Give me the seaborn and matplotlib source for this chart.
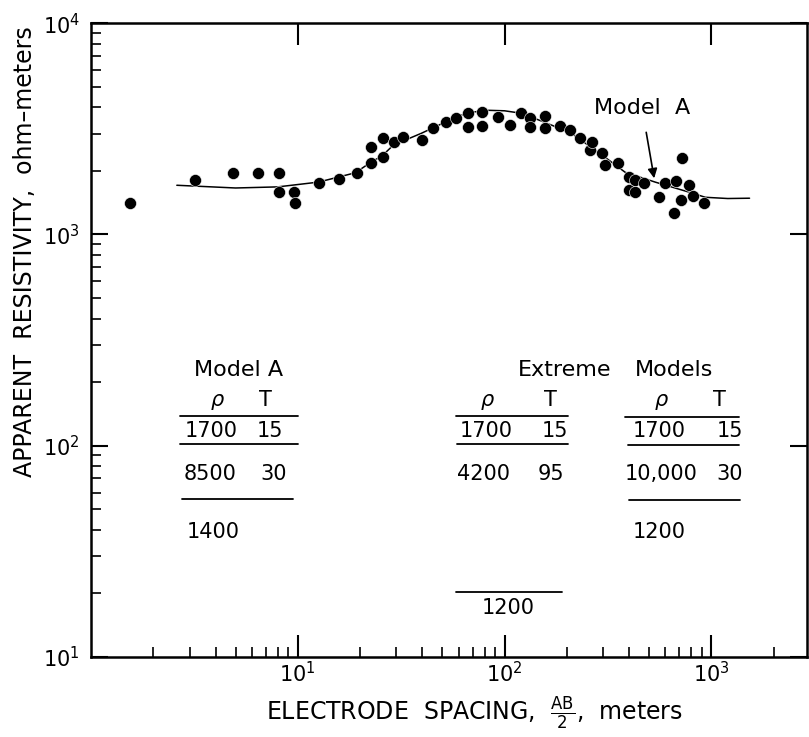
import numpy as np
import pandas as pd
import matplotlib
matplotlib.use('Agg')
import matplotlib.pyplot as plt
import seaborn as sns

# field sounding, AB/2 (m) vs apparent resistivity (ohm-m)
spacing = [1.55, 3.2, 4.84, 6.4, 8.09, 8.15, 9.56, 9.7, 12.6, 15.8, 19.3,
           22.6, 22.6, 25.9, 25.9, 29.2, 32.3, 40, 45.2, 52.3, 58.5,
           66.9, 66.9, 78.2, 78.2, 92.5, 106, 120, 132, 132, 156, 156,
           185, 207, 231, 259, 264, 296, 306, 354, 400, 400, 428, 428,
           473, 559, 598, 661, 676, 715, 723, 782, 818, 925]
rho_app = [1406, 1808, 1950, 1950, 1950, 1585, 1585, 1406, 1751, 1828, 1950,
           2588, 2173, 2858, 2323, 2737, 2887, 2794, 3185, 3397, 3548,
           3748, 3221, 3793, 3258, 3587, 3290, 3750, 3550, 3221, 3630, 3185,
           3258, 3119, 2858, 2505, 2737, 2426, 2127, 2173, 1866, 1622, 1808, 1585,
           1750, 1502, 1750, 1261, 1788, 1452, 2297, 1711, 1517, 1406]

# Model A theoretical curve
model_x = [2.6, 5, 8, 12.6, 19, 22.6, 25.5, 29, 39.5, 48, 57, 69, 84, 100,
           120, 156, 211, 306, 383, 535, 782, 935, 1200, 1530]
model_y = [1710, 1660, 1680, 1770, 1960, 2200, 2350, 2650, 3010, 3290, 3590,
           3790, 3870, 3850, 3750, 3400, 3010, 2320, 1970, 1770, 1585, 1500,
           1480, 1485]

x_major = [10, 100, 1000]

df = pd.DataFrame({'x': spacing, 'y': rho_app})
curve = pd.DataFrame({'x': model_x, 'y': model_y})

sns.set_style('ticks')
plt.rcParams['font.family'] = ['DejaVu Sans']
plt.rcParams.update({'text.color': 'black', 'axes.labelcolor': 'black',
                     'xtick.color': 'black', 'ytick.color': 'black',
                     'axes.edgecolor': 'black'})

fig = plt.figure(figsize=(8.09, 7.37), dpi=100)
ax = fig.add_axes([0.1125, 0.1085, 0.885, 0.860])

sns.lineplot(data=curve, x='x', y='y', color='black', linewidth=1.1,
             sort=False, estimator=None, ax=ax)
sns.scatterplot(data=df, x='x', y='y', color='black', s=75,
                edgecolor='white', linewidth=0.4, ax=ax, zorder=3)

ax.set_xscale('log')
ax.set_yscale('log')
ax.set_xlim(1, 2900)
ax.set_ylim(10, 10000)
ax.set_xticks(x_major)

for s in ax.spines.values():
    s.set_linewidth(1.8)
    s.set_visible(True)
    s.set_color('black')

ax.tick_params(which='major', direction='in', length=16, width=1.5,
               top=True, right=True, labelsize=15, pad=8)
ax.tick_params(which='minor', direction='in', length=7, width=1.2,
               top=False, right=False)
ax.tick_params(axis='y', which='major', length=12)
ax.tick_params(axis='x', which='major', pad=3)

ax.set_xlabel(r'ELECTRODE  SPACING,  $\frac{\mathrm{AB}}{2}$,  meters', fontsize=17)
ax.set_ylabel('APPARENT  RESISTIVITY,  ohm\u2013meters', fontsize=17)
ax.xaxis.set_label_coords(0.536, -0.06)
ax.yaxis.set_label_coords(-0.075, 0.64)

ax.annotate('Model  A', xy=(529, 1845), xytext=(462, 3965),
            ha='center', va='center', fontsize=16,
            arrowprops=dict(arrowstyle='-|>', color='black', lw=1.2,
                            shrinkA=8, shrinkB=0, mutation_scale=14))

tr = ax.transAxes
fs = 15

def txt(x, y, s, ha='left', size=fs, **kw):
    ax.text(x, y, s, transform=tr, ha=ha, va='center', fontsize=size, **kw)

def rule(x0, x1, y):
    ax.plot([x0, x1], [y, y], transform=tr, color='black', lw=1.3)

# Model A table
txt(0.144, 0.453, 'Model A', size=16)
txt(0.176, 0.405, '\u03c1', ha='center', style='italic')
txt(0.244, 0.405, 'T', ha='center')
rule(0.124, 0.289, 0.380)
txt(0.131, 0.356, '1700')
txt(0.232, 0.356, '15')
rule(0.124, 0.289, 0.336)
txt(0.130, 0.289, '8500')
txt(0.237, 0.289, '30')
rule(0.127, 0.282, 0.249)
txt(0.134, 0.197, '1400')

# Extreme models
txt(0.596, 0.453, 'Extreme', size=16)
txt(0.760, 0.453, 'Models', size=16)
txt(0.553, 0.405, '\u03c1', ha='center', style='italic')
txt(0.641, 0.405, 'T', ha='center')
rule(0.510, 0.666, 0.380)
txt(0.515, 0.356, '1700')
txt(0.630, 0.356, '15')
rule(0.511, 0.666, 0.336)
txt(0.511, 0.289, '4200')
txt(0.624, 0.289, '95')
rule(0.510, 0.658, 0.1025)
txt(0.545, 0.077, '1200')

txt(0.797, 0.405, '\u03c1', ha='center', style='italic')
txt(0.878, 0.405, 'T', ha='center')
rule(0.746, 0.905, 0.379)
txt(0.756, 0.356, '1700')
txt(0.874, 0.356, '15')
rule(0.750, 0.905, 0.334)
txt(0.746, 0.289, '10,000')
txt(0.874, 0.289, '30')
rule(0.751, 0.906, 0.248)
txt(0.756, 0.197, '1200')

fig.savefig('out.png', dpi=100)
